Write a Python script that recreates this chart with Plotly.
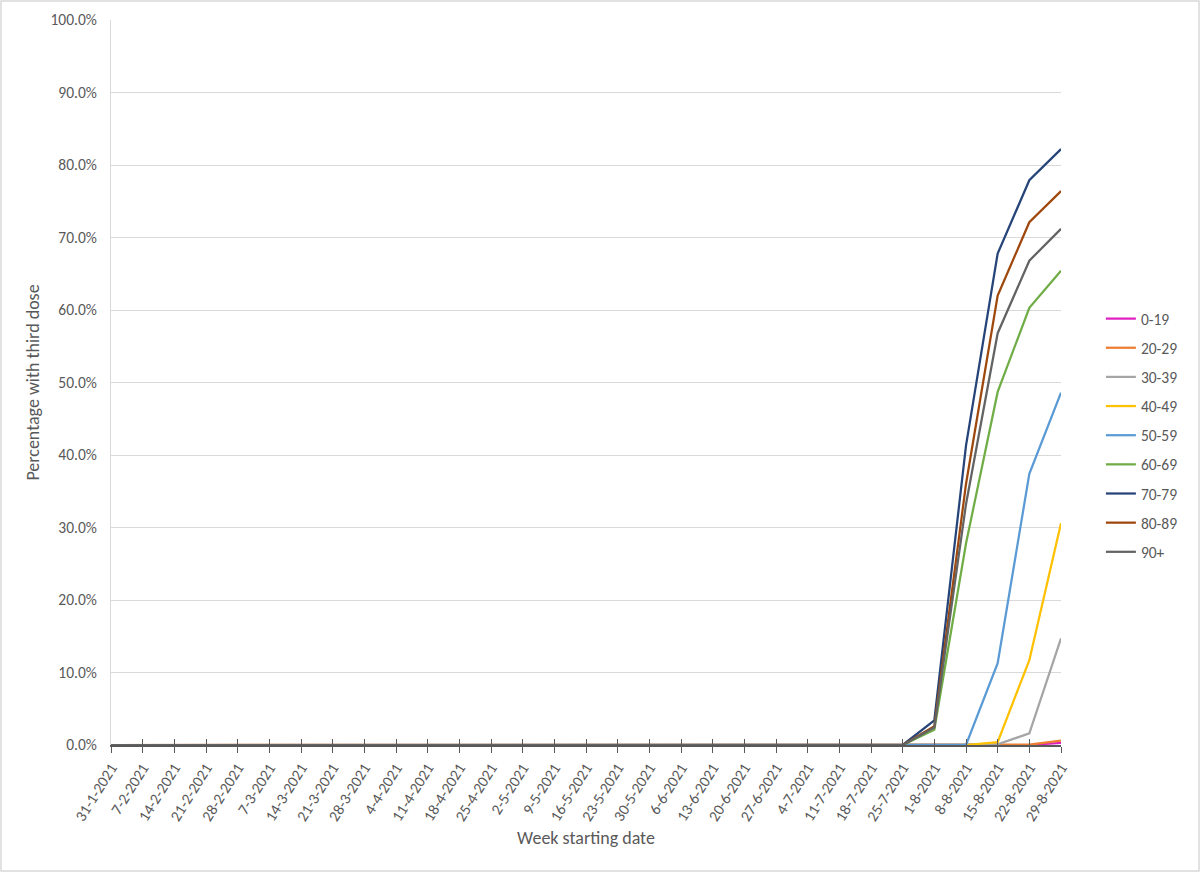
import plotly.graph_objects as go

# week starting dates (category axis)
weeks = ["31-1-2021", "7-2-2021", "14-2-2021", "21-2-2021", "28-2-2021", "7-3-2021",
         "14-3-2021", "21-3-2021", "28-3-2021", "4-4-2021", "11-4-2021", "18-4-2021",
         "25-4-2021", "2-5-2021", "9-5-2021", "16-5-2021", "23-5-2021", "30-5-2021",
         "6-6-2021", "13-6-2021", "20-6-2021", "27-6-2021", "4-7-2021", "11-7-2021",
         "18-7-2021", "25-7-2021", "1-8-2021", "8-8-2021", "15-8-2021", "22-8-2021",
         "29-8-2021"]

zeros = [0.0] * 25  # 31-1 .. 18-7, nobody had a third dose yet

# last six weeks per age group: 25-7 .. 29-8
age_0_19 = zeros + [0.0, 0.0, 0.0, 0.0, 0.0, 0.003]
age_20_29 = zeros + [0.0, 0.0, 0.0, 0.0, 0.0005, 0.006]
age_30_39 = zeros + [0.0, 0.0, 0.0, 0.001, 0.016, 0.147]
age_40_49 = zeros + [0.0, 0.0, 0.0, 0.004, 0.117, 0.306]
age_50_59 = zeros + [0.0, 0.0, 0.0, 0.113, 0.374, 0.486]
age_60_69 = zeros + [0.0, 0.021, 0.278, 0.487, 0.603, 0.654]
age_70_79 = zeros + [0.0, 0.034, 0.413, 0.678, 0.779, 0.822]
age_80_89 = zeros + [0.0, 0.026, 0.360, 0.620, 0.721, 0.764]
age_90 = zeros + [0.0, 0.024, 0.332, 0.568, 0.668, 0.712]

series = [
    ("0-19", age_0_19, "#E020C0"),
    ("20-29", age_20_29, "#ED7D31"),
    ("30-39", age_30_39, "#A5A5A5"),
    ("40-49", age_40_49, "#FFC000"),
    ("50-59", age_50_59, "#5B9BD5"),
    ("60-69", age_60_69, "#70AD47"),
    ("70-79", age_70_79, "#264478"),
    ("80-89", age_80_89, "#9E480E"),
    ("90+", age_90, "#636363"),
]

FONT = "Calibri, Carlito, Lato, sans-serif"
TXT = "#595959"
TICK = 15.5

fig = go.Figure()
for name, vals, col in series:
    # one legend group per trace so tracegroupgap spaces the legend rows
    fig.add_trace(go.Scatter(x=weeks, y=vals, name=name, mode="lines", legendgroup=name,
                             line=dict(color=col, width=2.25)))

# invisible trace so the inside-tick overlay axis gets drawn
fig.add_trace(go.Scatter(x=weeks, y=[None] * len(weeks), xaxis="x2",
                         showlegend=False, hoverinfo="skip"))

fig.update_layout(
    width=1200, height=872,
    paper_bgcolor="white", plot_bgcolor="white",
    margin=dict(l=111, r=139, t=20, b=127, autoexpand=False),
    font=dict(family=FONT, size=TICK, color=TXT),
    xaxis=dict(type="category", range=[0, len(weeks) - 1], tickangle=-58,
               showgrid=False, zeroline=False, showline=True, linecolor=TXT,
               linewidth=1.5, ticks="outside", ticklen=6, tickcolor=TXT,
               tickfont=dict(size=TICK, color=TXT), automargin=False,
               title=dict(text="Week starting date", font=dict(size=18, color=TXT),
                          standoff=8)),
    xaxis2=dict(type="category", range=[0, len(weeks) - 1], overlaying="x",
                anchor="y", side="bottom", showticklabels=False, showgrid=False,
                zeroline=False, ticks="inside", ticklen=6, tickcolor=TXT,
                tickvals=weeks),
    yaxis=dict(range=[0, 1], dtick=0.1, tickformat=".1%", showgrid=True,
               gridcolor="#D9D9D9", zeroline=False, showline=True,
               linecolor="#D9D9D9", ticks="", tickfont=dict(size=TICK, color=TXT),
               ticklabelstandoff=10, automargin=False,
               title=dict(text="Percentage with third dose",
                          font=dict(size=18, color=TXT), standoff=6)),
    legend=dict(x=1.042, y=0.611, yanchor="top", xanchor="left",
                font=dict(size=TICK, color=TXT), tracegroupgap=6,
                itemwidth=30, bgcolor="rgba(0,0,0,0)"),
    shapes=[dict(type="rect", xref="paper", yref="paper", x0=-110 / 950, x1=1 + 138 / 950,
                 y0=-126 / 725, y1=1 + 19 / 725, line=dict(color="#D9D9D9", width=1.5))],
)

# drop the page's default 8px body margin so the chart sits at the window origin
fig.write_html("out.html", config={"displayModeBar": False},
               post_script="document.body.style.margin='0';")
